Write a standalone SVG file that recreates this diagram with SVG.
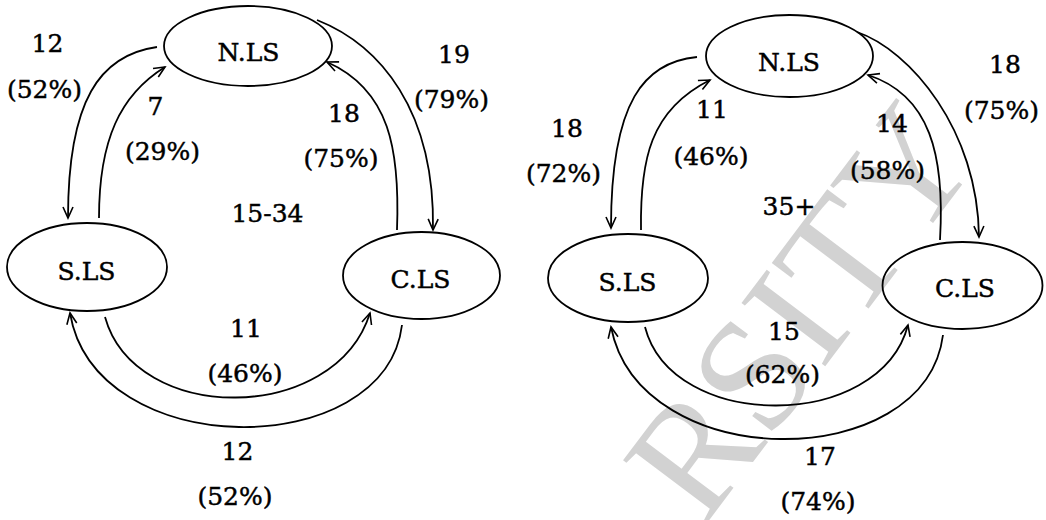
<svg xmlns="http://www.w3.org/2000/svg" width="1046" height="520" viewBox="0 0 1046 520">
  <defs>
    <marker id="arrow" markerUnits="userSpaceOnUse" markerWidth="16" markerHeight="16" viewBox="-12 -8 16 16" refX="0" refY="0" orient="auto">
      <path d="M-11,-5 L0,0 L-11,5" fill="none" stroke="#000" stroke-width="1.6"/>
    </marker>
  </defs>
  <style>
    .node ellipse { fill: none; stroke: #000; stroke-width: 1.8; }
    .node text, .label { font-family: "DejaVu Serif", "Liberation Serif", serif; font-size: 25px; fill: #000; stroke: #000; stroke-width: 0.45; text-anchor: middle; }
    .edge { fill: none; stroke: #000; stroke-width: 1.8; marker-end: url(#arrow); }
    .mark { font-family: "Liberation Serif", serif; font-size: 160px; fill: #d2d2d2; }
  </style>

  <rect width="1046" height="520" fill="#fff"/>

  <!-- background watermark -->
  <text class="mark" transform="translate(704,527) rotate(-53)">RSITY</text>

  <!-- connectors -->
  <g id="connectors">
    <!-- age group 15-34 -->
    <path class="edge" d="M157,47 C100,55 68,100 68,218"/>
    <path class="edge" d="M99,218 C99,140 120,95 165,67"/>
    <path class="edge" d="M317,20 C380,45 435,110 433,230"/>
    <path class="edge" d="M397,230 C400,150 390,90 327,62"/>
    <path class="edge" d="M105,317 C135,425 335,425 370,313"/>
    <path class="edge" d="M402,325 C385,463 95,463 70,313"/>
    <!-- age group 35+ -->
    <path class="edge" d="M697,57 C645,62 611,100 611,228"/>
    <path class="edge" d="M641,230 C640,160 650,110 710,80"/>
    <path class="edge" d="M857,32 C910,50 978,130 979,237"/>
    <path class="edge" d="M940,240 C945,155 930,95 868,75"/>
    <path class="edge" d="M645,327 C672,432 880,432 908,325"/>
    <path class="edge" d="M943,335 C925,475 640,475 611,327"/>
  </g>

  <!-- nodes: 15-34 -->
  <g id="nls-a" class="node">
    <ellipse cx="248" cy="46" rx="84" ry="40"/>
    <text x="248.5" y="61">N.LS</text>
  </g>
  <g id="sls-a" class="node">
    <ellipse cx="87" cy="267" rx="80" ry="44"/>
    <text x="86.5" y="280">S.LS</text>
  </g>
  <g id="cls-a" class="node">
    <ellipse cx="421.5" cy="275.5" rx="78.5" ry="43.5"/>
    <text x="420.5" y="288">C.LS</text>
  </g>

  <!-- nodes: 35+ -->
  <g id="nls-b" class="node">
    <ellipse cx="789.5" cy="56" rx="83.5" ry="41"/>
    <text x="789" y="71">N.LS</text>
  </g>
  <g id="sls-b" class="node">
    <ellipse cx="628" cy="278" rx="80" ry="44"/>
    <text x="627.5" y="291">S.LS</text>
  </g>
  <g id="cls-b" class="node">
    <ellipse cx="962.5" cy="285.5" rx="80" ry="43.5"/>
    <text x="965" y="297">C.LS</text>
  </g>

  <!-- flow labels: 15-34 -->
  <g id="labels-a">
    <text class="label" x="47.5" y="52">12</text>
    <text class="label" x="44.5" y="98">(52%)</text>
    <text class="label" x="155.5" y="115">7</text>
    <text class="label" x="162.5" y="160">(29%)</text>
    <text class="label" x="454" y="63">19</text>
    <text class="label" x="451.5" y="108">(79%)</text>
    <text class="label" x="344" y="122">18</text>
    <text class="label" x="341" y="167">(75%)</text>
    <text class="label" x="267.5" y="222">15-34</text>
    <text class="label" x="246" y="337">11</text>
    <text class="label" x="245" y="382">(46%)</text>
    <text class="label" x="237.5" y="460">12</text>
    <text class="label" x="235" y="505">(52%)</text>
  </g>

  <!-- flow labels: 35+ -->
  <g id="labels-b">
    <text class="label" x="567" y="137">18</text>
    <text class="label" x="563.5" y="182">(72%)</text>
    <text class="label" x="712" y="118">11</text>
    <text class="label" x="711" y="165">(46%)</text>
    <text class="label" x="789" y="215">35+</text>
    <text class="label" x="1005" y="73">18</text>
    <text class="label" x="1001.5" y="119">(75%)</text>
    <text class="label" x="892" y="132">14</text>
    <text class="label" x="887.5" y="179">(58%)</text>
    <text class="label" x="784" y="340">15</text>
    <text class="label" x="782.5" y="383">(62%)</text>
    <text class="label" x="820" y="465">17</text>
    <text class="label" x="818" y="510">(74%)</text>
  </g>
</svg>
